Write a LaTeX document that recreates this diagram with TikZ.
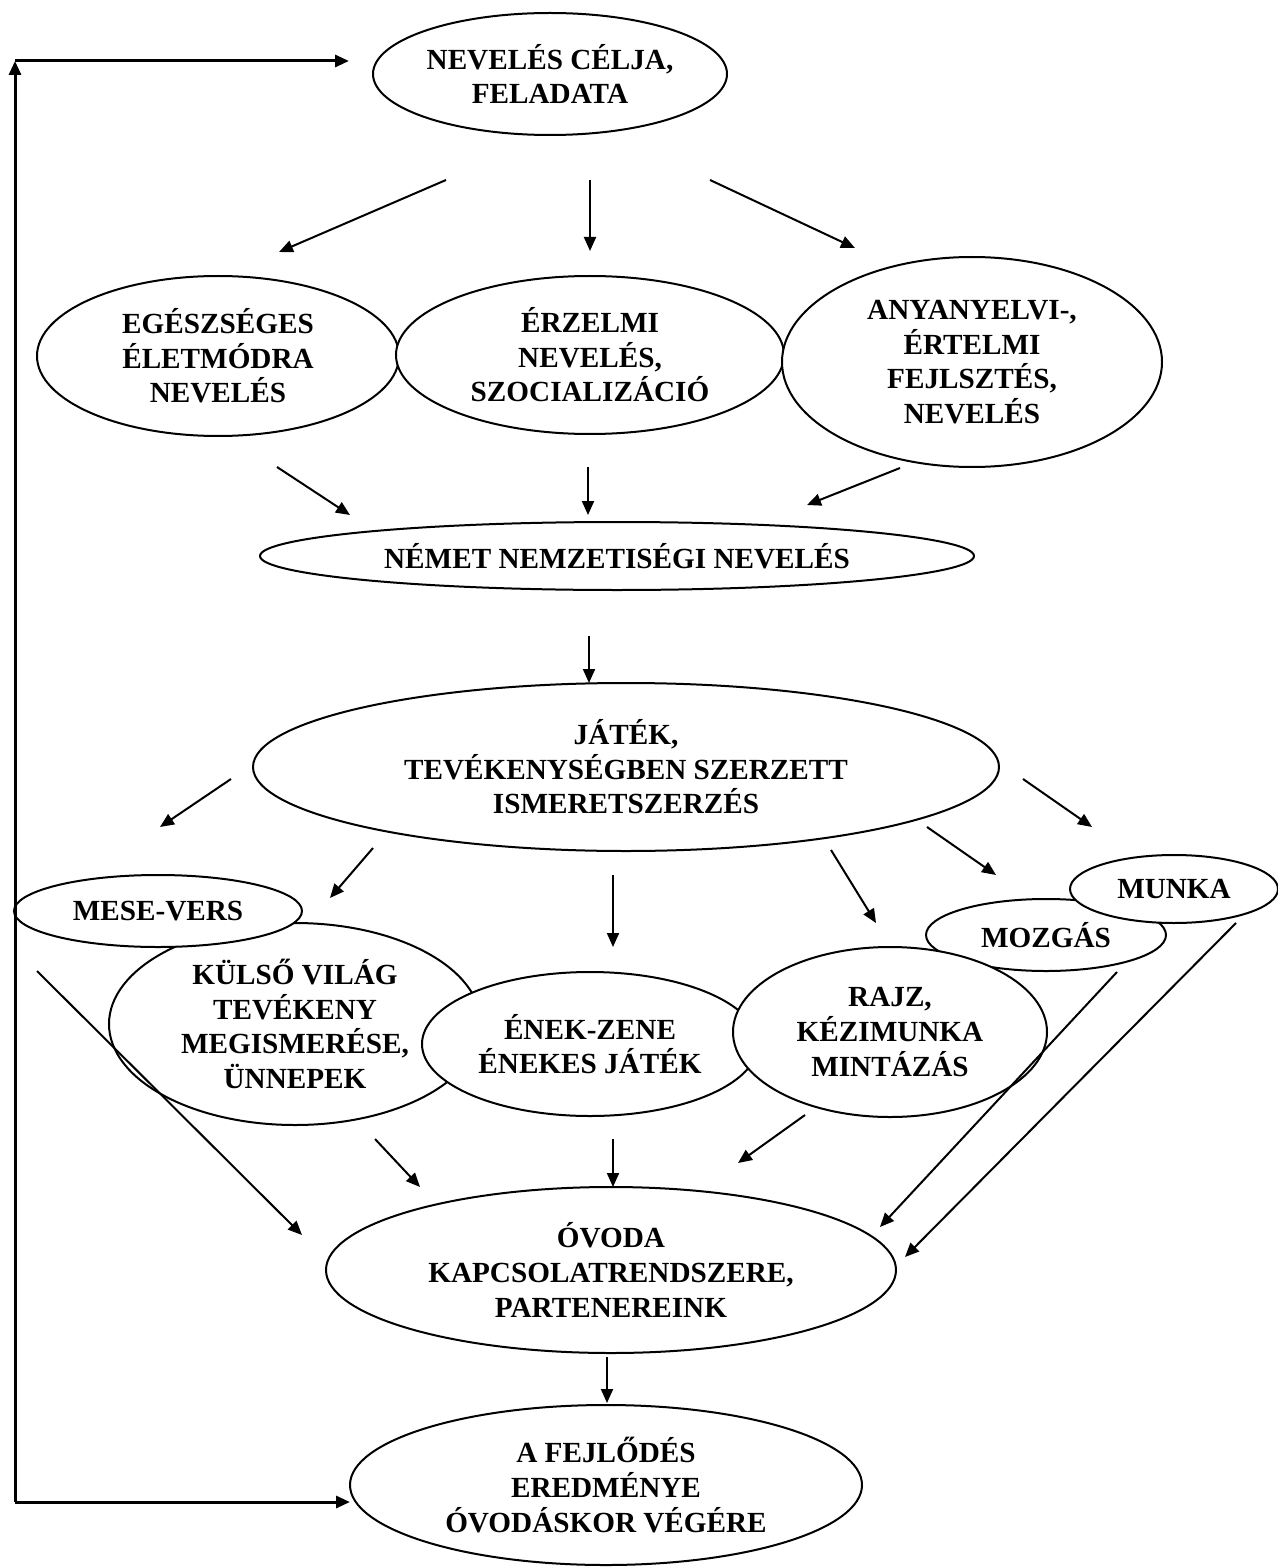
\documentclass[tikz,border=0pt]{standalone}
\usepackage{fontspec}
\setmainfont{Liberation Serif}
\usetikzlibrary{shapes.geometric, arrows.meta}

\begin{document}
\begin{tikzpicture}[x=0.5pt, y=-0.5pt, line width=1pt, >={Triangle[length=7pt, width=6pt]},
    font=\fontsize{14.6}{17.3}\selectfont\bfseries,
    oval/.style={draw, ellipse, fill=white, align=center, inner sep=0pt}]
  \useasboundingbox (0,0) rectangle (1278,1567);

  \node[oval, minimum width=177pt, minimum height=61pt]  (C)   at ( 550,   74) {NEVELÉS CÉLJA,\\FELADATA};
  \node[oval, minimum width=181pt, minimum height=80pt]  (EG)  at ( 218,  356) {EGÉSZSÉGES\\ÉLETMÓDRA\\NEVELÉS};
  \node[oval, minimum width=194pt, minimum height=79pt]  (ER)  at ( 590,  355) {ÉRZELMI\\NEVELÉS,\\SZOCIALIZÁCIÓ};
  \node[oval, minimum width=190pt, minimum height=105pt] (AN)  at ( 972,  362) {ANYANYELVI-,\\ÉRTELMI\\FEJLSZTÉS,\\NEVELÉS};
  \node[oval, minimum width=357pt, minimum height=34pt]  (NN)  at ( 617,  556) {NÉMET NEMZETISÉGI NEVELÉS};
  \node[oval, minimum width=373pt, minimum height=84pt]  (J)   at ( 626,  767) {JÁTÉK,\\TEVÉKENYSÉGBEN SZERZETT\\ISMERETSZERZÉS};

  \node[oval, minimum width=186pt, minimum height=101pt] (KV)  at ( 295, 1024) {KÜLSŐ VILÁG\\TEVÉKENY\\MEGISMERÉSE,\\ÜNNEPEK};
  \node[oval, minimum width=144pt, minimum height=36pt]  (MV)  at ( 158,  911) {MESE-VERS};
  \node[oval, minimum width=168pt, minimum height=72pt]  (EZ)  at ( 590, 1044) {ÉNEK-ZENE\\ÉNEKES JÁTÉK};
  \node[oval, minimum width=120pt, minimum height=36pt]  (MO)  at (1046,  935) {MOZGÁS};
  \node[oval, minimum width=157pt, minimum height=85pt]  (R)   at ( 890, 1032) {RAJZ,\\KÉZIMUNKA\\MINTÁZÁS};
  \node[oval, minimum width=104pt, minimum height=34pt]  (MU)  at (1174,  889) {MUNKA};

  \node[oval, minimum width=285pt, minimum height=83pt]  (O)   at ( 611, 1270) {ÓVODA\\KAPCSOLATRENDSZERE,\\PARTENEREINK};
  \node[oval, minimum width=256pt, minimum height=80pt]  (F)   at ( 606, 1485) {A FEJLŐDÉS\\EREDMÉNYE\\ÓVODÁSKOR VÉGÉRE};

  \coordinate (c1) at ( 446,  180);  \coordinate (c1e) at ( 279,  252);
  \coordinate (c2) at ( 590,  180);  \coordinate (c2e) at ( 590,  251);
  \coordinate (c3) at ( 710,  180);  \coordinate (c3e) at ( 855,  248);
  \coordinate (n1) at ( 277,  467);  \coordinate (n1e) at ( 350,  515);
  \coordinate (n2) at ( 588,  467);  \coordinate (n2e) at ( 588,  515);
  \coordinate (n3) at ( 900,  468);  \coordinate (n3e) at ( 807,  505);
  \coordinate (nj) at ( 589,  636);  \coordinate (nje) at ( 589,  683);
  \coordinate (j1) at ( 231,  779);  \coordinate (j1e) at ( 160,  827);
  \coordinate (j2) at ( 373,  848);  \coordinate (j2e) at ( 330,  898);
  \coordinate (j3) at ( 613,  875);  \coordinate (j3e) at ( 613,  947);
  \coordinate (j4) at ( 831,  850);  \coordinate (j4e) at ( 876,  923);
  \coordinate (j5) at ( 927,  827);  \coordinate (j5e) at ( 996,  875);
  \coordinate (j6) at (1023,  779);  \coordinate (j6e) at (1092,  827);
  \coordinate (o1) at (  37,  971);  \coordinate (o1e) at ( 302, 1235);
  \coordinate (o2) at ( 375, 1139);  \coordinate (o2e) at ( 420, 1187);
  \coordinate (o3) at ( 613, 1139);  \coordinate (o3e) at ( 613, 1187);
  \coordinate (o4) at ( 805, 1115);  \coordinate (o4e) at ( 738, 1163);
  \coordinate (o5) at (1117,  972);  \coordinate (o5e) at ( 880, 1227);
  \coordinate (o6) at (1236,  923);  \coordinate (o6e) at ( 905, 1257);
  \coordinate (of) at ( 607, 1357);  \coordinate (ofe) at ( 607, 1403);
  \coordinate (lb) at (  15, 1502);  \coordinate (lt)  at (  15,   61);
  \coordinate (lc) at ( 349,   61);  \coordinate (lf)  at ( 350, 1502);

  \draw[->] (c1) -- (c1e);
  \draw[->] (c2) -- (c2e);
  \draw[->] (c3) -- (c3e);

  \draw[->] (n1) -- (n1e);
  \draw[->] (n2) -- (n2e);
  \draw[->] (n3) -- (n3e);

  \draw[->] (nj) -- (nje);

  \draw[->] (j1) -- (j1e);
  \draw[->] (j2) -- (j2e);
  \draw[->] (j3) -- (j3e);
  \draw[->] (j4) -- (j4e);
  \draw[->] (j5) -- (j5e);
  \draw[->] (j6) -- (j6e);

  \draw[->] (o1) -- (o1e);
  \draw[->] (o2) -- (o2e);
  \draw[->] (o3) -- (o3e);
  \draw[->] (o4) -- (o4e);
  \draw[->] (o5) -- (o5e);
  \draw[->] (o6) -- (o6e);

  \draw[->] (of) -- (ofe);

  \draw[->, line width=1.5pt] (lb) -- (lt);
  \draw[->, line width=1.5pt] (lt) -- (lc);
  \draw[->, line width=1.5pt] (lb) -- (lf);
\end{tikzpicture}
\end{document}
